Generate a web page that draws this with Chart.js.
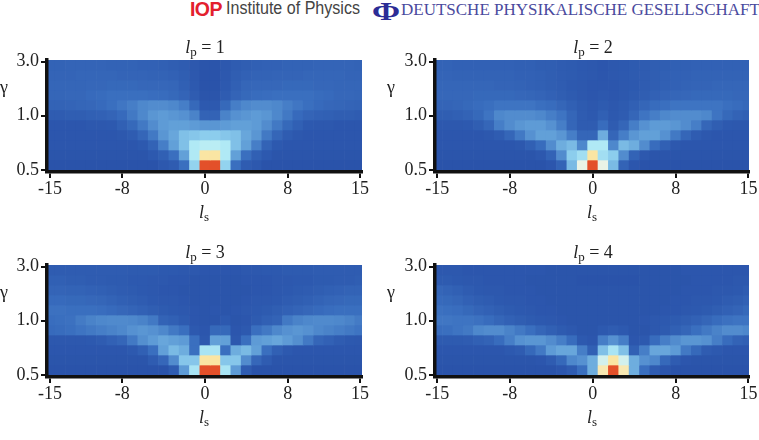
<!DOCTYPE html>
<html>
<head>
<meta charset="utf-8">
<title>Spiral spectra</title>
<script src="https://cdn.jsdelivr.net/npm/chart.js@4/dist/chart.umd.min.js"></script>
<style>
  html, body { margin: 0; padding: 0; background: #fff; }
  #page { position: relative; width: 759px; height: 440px; overflow: hidden; font-family: "Liberation Serif", serif; color: #222; }
  #page canvas { position: absolute; }
  .label { position: absolute; transform: translate(-50%, -50%); font-size: 18px; line-height: 1; white-space: nowrap; }
  .label i { font-style: italic; }
  .label sub { font-size: 13px; vertical-align: -3px; line-height: 0; }
  .head { position: absolute; white-space: nowrap; line-height: 1; }
</style>
</head>
<body>
<div id="page">
  <span class="head" style="left:190px;top:-2px;font:900 19.5px 'Liberation Sans',sans-serif;color:#e3202e;letter-spacing:-0.6px">IOP</span>
  <span class="head" style="left:226px;top:-2px;font:18px 'Liberation Sans',sans-serif;color:#444;transform:scaleX(0.893);transform-origin:left top">Institute of Physics</span>
  <span class="head" style="left:372px;top:-3px;font:bold 26px 'Liberation Serif',serif;color:#2c2c96;transform:scaleX(1.3);transform-origin:left top">Φ</span>
  <span class="head" style="left:401px;top:0;font:17px 'Liberation Serif',serif;color:#4a4a9e">DEUTSCHE PHYSIKALISCHE GESELLSCHAFT</span>
</div>
<script>
// column positions (orbital number of the signal) and row tick positions
const lsValues = [-15,-14,-13,-12,-11,-10,-9,-8,-7,-6,-5,-4,-3,-2,-1,0,1,2,3,4,5,6,7,8,9,10,11,12,13,14,15];
const xTickValues = [-15, -8, 0, 8, 15];
const yTickValues = [0, 5.43, 10.83];
const yTickLabels = ["0.5", "1.0", "3.0"];

// intensity per cell, 0-100; rows listed from top (gamma = 3.0) to bottom (gamma = 0.5)
const lp1Rows = [
  [12,12,13,13,13,13,12,12,12,11,11,10,9,8,5,3,3,5,8,9,10,11,11,12,12,12,13,13,13,13,12],
  [13,13,13,14,14,14,14,13,13,13,12,12,11,9,5,2,2,5,9,11,12,12,13,13,13,14,14,14,14,13,13],
  [14,14,14,14,15,15,16,16,16,15,15,15,14,10,6,2,2,6,10,14,15,15,15,16,16,16,15,15,14,14,14],
  [14,14,15,15,17,18,20,20,20,20,19,18,16,13,8,3,3,8,13,16,18,19,20,20,20,20,18,17,15,15,14],
  [12,12,13,14,15,17,20,23,26,30,32,32,30,26,16,6,6,16,26,30,32,32,30,26,23,20,17,15,14,13,12],
  [8,8,9,9,10,11,13,17,24,30,36,38,36,34,28,12,12,28,34,36,38,36,30,24,17,13,11,10,9,9,8],
  [4,4,4,4,5,5,6,10,16,24,32,38,40,40,38,36,36,38,40,40,38,32,24,16,10,6,5,5,4,4,4],
  [4,4,4,4,4,4,4,5,8,14,24,36,42,50,52,54,54,52,50,42,36,24,14,8,5,4,4,4,4,4,4],
  [4,4,4,4,4,4,4,4,4,6,12,26,40,50,64,66,66,64,50,40,26,12,6,4,4,4,4,4,4,4,4],
  [3,3,3,3,3,3,3,3,3,3,6,10,20,40,64,84,84,64,40,20,10,6,3,3,3,3,3,3,3,3,3],
  [2,2,2,2,2,2,2,2,2,2,2,5,8,20,56,100,100,56,20,8,5,2,2,2,2,2,2,2,2,2,2]
];

const lp2Rows = [
  [12,12,11,11,11,11,11,11,10,10,9,9,8,7,6,5,4,5,6,7,8,9,9,10,10,11,11,11,11,11,11],
  [13,13,12,12,12,12,12,12,11,11,10,9,8,7,6,5,4,5,6,7,8,9,10,11,11,12,12,12,12,12,12],
  [14,14,14,14,14,14,13,13,12,11,10,9,8,6,5,4,4,4,5,6,8,9,10,11,12,13,13,14,14,14,14],
  [15,15,15,15,16,16,16,16,15,14,13,11,9,7,5,4,5,4,5,7,9,11,13,14,15,16,16,16,16,15,15],
  [13,13,14,16,18,20,22,22,22,22,20,18,14,10,7,5,7,5,7,10,14,18,20,22,22,22,22,22,20,18,16],
  [9,9,10,12,16,22,30,32,32,32,30,26,22,14,8,6,10,6,8,14,22,26,30,32,32,32,30,22,16,12,10],
  [5,5,5,6,9,14,26,32,36,38,38,34,26,14,8,8,18,8,14,26,34,38,38,36,32,26,14,9,6,5,5],
  [4,4,4,4,4,5,8,14,24,34,40,40,36,26,14,14,44,14,26,36,40,40,34,24,14,8,5,4,4,4,4],
  [4,4,4,4,4,4,4,4,5,10,18,32,44,48,30,64,64,30,48,44,32,18,10,5,4,4,4,4,4,4,4],
  [3,3,3,3,3,3,3,3,3,3,5,12,32,54,60,84,60,54,32,12,5,3,3,3,3,3,3,3,3,3,3],
  [2,2,2,2,2,2,2,2,2,2,2,4,12,48,74,100,74,48,12,4,2,2,2,2,2,2,2,2,2,2,2]
];

const lp3Rows = [
  [8,8,8,8,8,8,8,8,7,7,7,6,6,5,5,4,4,4,4,5,5,6,6,7,7,7,8,8,8,8,8],
  [10,10,9,9,8,8,7,7,6,6,5,5,4,4,3,3,3,3,3,4,4,4,5,5,6,6,7,7,8,8,9],
  [13,13,12,12,11,10,9,8,7,6,5,4,4,3,3,3,3,3,3,3,4,4,5,6,7,8,9,10,11,12,12],
  [17,17,16,16,15,14,12,10,9,8,6,5,5,4,3,3,3,3,3,4,5,5,6,8,9,10,12,14,15,16,16],
  [21,21,20,20,20,19,17,15,13,11,9,7,6,5,4,3,4,3,4,5,6,7,9,11,13,15,17,19,20,20,20],
  [19,20,21,25,28,30,31,31,30,28,24,12,10,7,4,3,3,6,3,4,7,10,12,24,28,30,31,31,30,28,25],
  [17,18,20,22,24,26,28,30,34,36,34,30,24,20,6,4,16,16,4,6,20,24,30,34,36,34,30,28,26,24,22],
  [5,5,5,5,6,8,11,14,24,33,38,42,40,38,20,5,40,40,5,20,38,40,42,38,33,24,14,11,8,6,5],
  [4,4,4,4,4,4,4,4,6,10,20,40,48,44,20,62,62,20,44,48,40,20,10,6,4,4,4,4,4,4,4],
  [3,3,3,3,3,3,3,3,3,3,8,15,32,52,52,84,84,52,52,32,15,8,3,3,3,3,3,3,3,3,3],
  [2,2,2,2,2,2,2,2,2,2,2,2,8,38,62,100,100,62,38,8,2,2,2,2,2,2,2,2,2,2,2]
];

const lp4Rows = [
  [5,5,5,4,4,4,4,4,4,4,4,3,3,3,3,3,3,3,3,3,3,3,3,3,4,4,4,4,4,4,4],
  [7,7,6,5,5,4,4,4,4,3,3,3,3,3,2,2,2,2,2,2,3,3,3,3,3,4,4,4,4,5,5],
  [14,12,10,8,6,5,5,4,4,4,3,3,3,3,3,3,3,3,3,3,3,3,3,3,4,4,4,5,5,6,8],
  [17,16,14,11,9,8,6,5,5,4,4,3,3,3,3,3,3,3,3,3,3,3,3,4,4,5,5,6,8,9,11],
  [21,20,19,16,13,11,9,7,6,5,4,4,3,3,3,3,3,3,3,3,3,3,4,4,5,6,7,9,11,13,16],
  [23,23,22,22,21,18,14,11,9,7,6,5,4,3,3,3,3,3,3,3,4,5,6,7,9,11,14,18,21,22,22],
  [19,20,22,24,30,32,32,28,24,20,14,10,7,5,3,3,6,8,6,3,3,5,7,10,14,20,24,28,32,32,30],
  [7,7,7,8,10,12,18,26,34,36,36,32,26,18,6,4,26,34,26,4,6,18,26,32,36,36,34,26,18,12,10],
  [4,4,4,4,4,4,4,6,8,16,24,38,42,42,26,10,50,62,50,10,26,42,42,38,24,16,8,6,4,4,4],
  [3,3,3,3,3,3,3,3,3,3,4,8,16,30,34,44,70,84,70,44,34,30,16,8,4,3,3,3,3,3,3],
  [2,2,2,2,2,2,2,2,2,2,2,2,4,8,20,44,82,100,82,44,20,8,4,2,2,2,2,2,2,2,2]
];

// blue - cyan - cream - red colour ramp
const rampStops = [0, 20, 40, 55, 65, 75, 85, 100];
const rampColors = [
  [40, 80, 168], [58, 111, 191], [98, 160, 216], [143, 208, 238],
  [180, 236, 246], [240, 244, 228], [251, 227, 156], [227, 80, 42]
];

const Y_MIN = -0.2;

function cellColor(v) {
  let i = 0;
  while (i < rampStops.length - 2 && v > rampStops[i + 1]) i++;
  const t = (v - rampStops[i]) / (rampStops[i + 1] - rampStops[i]);
  const c = rampColors[i].map((a, n) => Math.round(a + (rampColors[i + 1][n] - a) * t));
  return `rgb(${c[0]},${c[1]},${c[2]})`;
}

// one dataset per row; each cell is a floating bar one row tall
function rowDatasets(rows) {
  return rows.map((row, i) => {
    const rowIndex = rows.length - 1 - i;
    // bottom row runs under the thick axis line
    const base = rowIndex === 0 ? Y_MIN : rowIndex;
    return {
      data: row.map((_, k) => ({ x: lsValues[k], y: [base, rowIndex + 1] })),
      backgroundColor: row.map(cellColor),
      borderWidth: 0,
      barPercentage: 1,
      categoryPercentage: 1,
    };
  });
}

const AXIS = "#111";
const TICK_FONT = { family: "'Liberation Serif', serif", size: 18 };

function renderPanel(rows, box) {
  const canvas = document.createElement("canvas");
  canvas.width = box.width;
  canvas.height = box.height;
  canvas.style.left = box.left + "px";
  canvas.style.top = box.top + "px";
  canvas.style.width = box.width + "px";
  canvas.style.height = box.height + "px";
  document.getElementById("page").appendChild(canvas);

  return new Chart(canvas, {
    type: "bar",
    data: { datasets: rowDatasets(rows) },
    options: {
      responsive: false,
      animation: false,
      events: [],
      grouped: false,
      layout: { padding: { top: box.padTop, right: box.padRight } },
      plugins: { legend: { display: false }, tooltip: { enabled: false } },
      scales: {
        x: {
          type: "linear",
          offset: false,
          min: box.xMin,
          max: box.xMax,
          afterBuildTicks: (scale) => { scale.ticks = xTickValues.map((value) => ({ value })); },
          afterFit: (scale) => { scale.height = box.xAxisHeight; },
          grid: { offset: false, drawOnChartArea: false, color: AXIS, lineWidth: 2, tickLength: 6 },
          border: { display: true, color: AXIS, width: 3.5, z: 1 },
          ticks: { color: "#222", font: TICK_FONT, padding: 0, autoSkip: false, maxRotation: 0, callback: (v) => String(v) },
        },
        y: {
          type: "linear",
          min: Y_MIN,
          max: 11,
          afterBuildTicks: (scale) => { scale.ticks = yTickValues.map((value) => ({ value })); },
          afterFit: (scale) => { scale.width = box.yAxisWidth; },
          grid: { drawOnChartArea: false, color: AXIS, lineWidth: 2, tickLength: 6 },
          border: { display: true, color: AXIS, width: 3.5, z: 1 },
          ticks: { color: "#222", font: TICK_FONT, padding: 2, autoSkip: false, callback: (v, i) => yTickLabels[i] },
        },
      },
    },
  });
}

function addLabel(html, x, y) {
  const el = document.createElement("span");
  el.className = "label";
  el.innerHTML = html;
  el.style.left = x + "px";
  el.style.top = y + "px";
  document.getElementById("page").appendChild(el);
}

const leftColumn = { left: 0, width: 380, yAxisWidth: 47, padRight: 18, xMin: -15.29, xMax: 15.19 };
const rightColumn = { left: 380, width: 379, yAxisWidth: 55, padRight: 10, xMin: -15.22, xMax: 15.06 };
const rowGeometry = { height: 162, padTop: 20, xAxisHeight: 30 };

renderPanel(lp1Rows, { ...leftColumn, ...rowGeometry, top: 40 });
renderPanel(lp2Rows, { ...rightColumn, ...rowGeometry, top: 40 });
renderPanel(lp3Rows, { ...leftColumn, ...rowGeometry, top: 245 });
renderPanel(lp4Rows, { ...rightColumn, ...rowGeometry, top: 245 });

const lpSubs = ["1", "2", "3", "4"];
const columnCentres = [205, 593];
const columnGammaX = [4, 391];
const rowOffsets = [0, 205];
lpSubs.forEach((lp, i) => {
  const col = i % 2;
  const off = rowOffsets[i >> 1];
  addLabel(`<i>l</i><sub>p</sub> = ${lp}`, columnCentres[col], 47 + off);
  addLabel(`<i>l</i><sub>s</sub>`, columnCentres[col] - 1, 212 + off);
  addLabel("γ", columnGammaX[col], 87 + off);
});
</script>
</body>
</html>
